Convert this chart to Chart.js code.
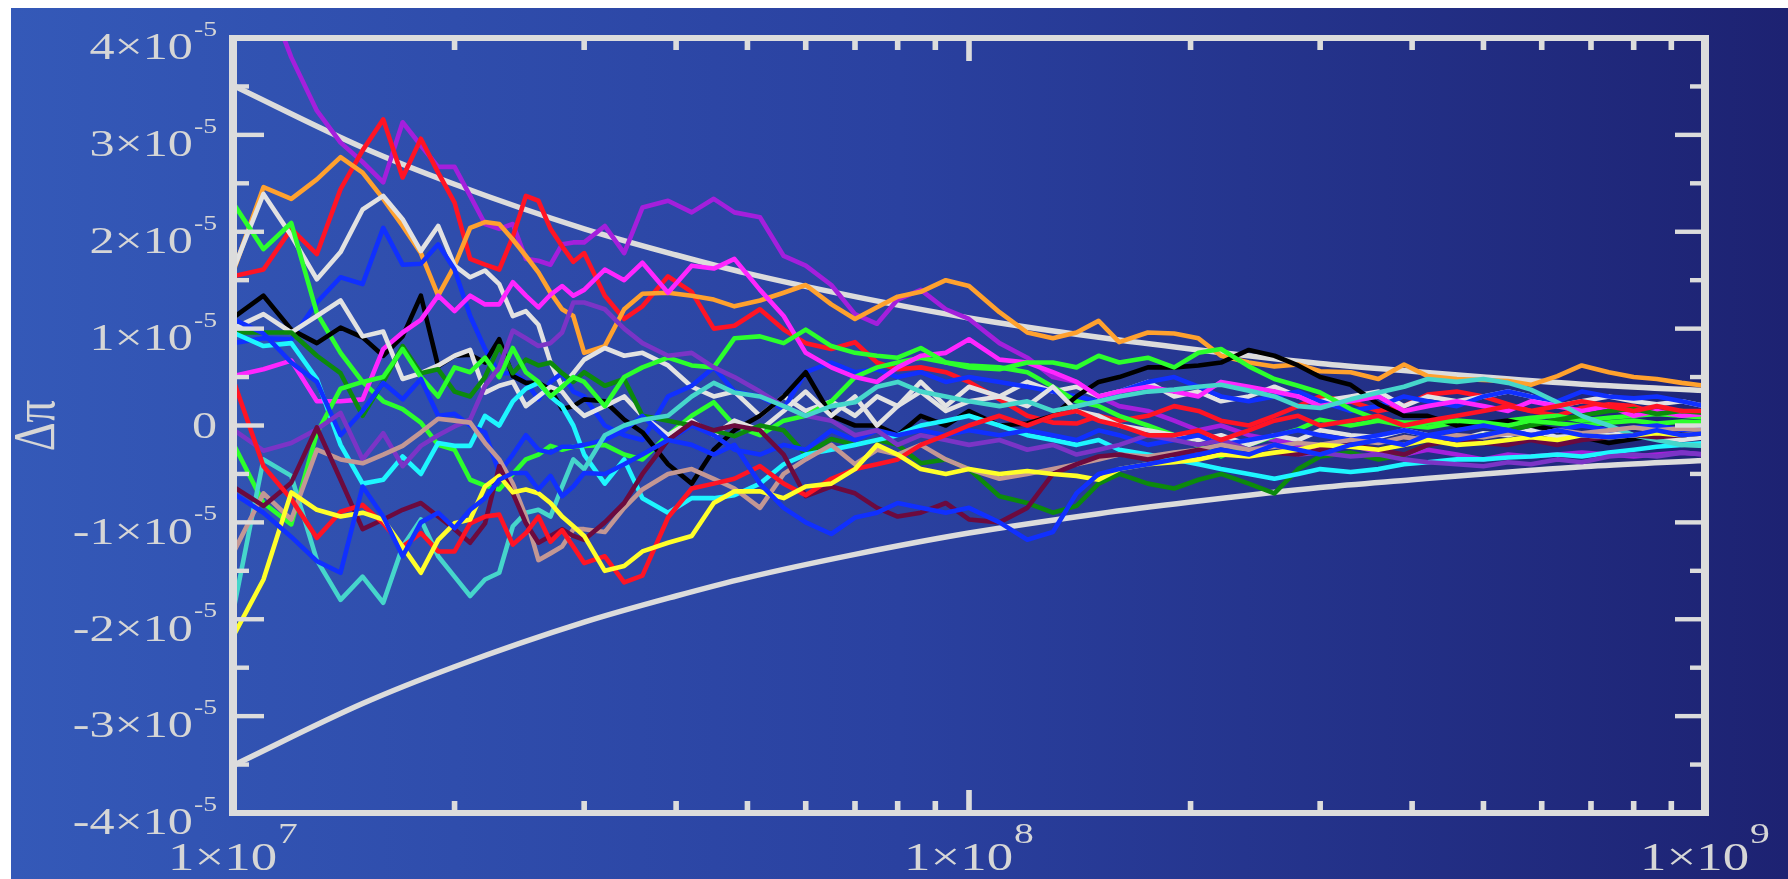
<!DOCTYPE html>
<html>
<head>
<meta charset="utf-8">
<script src="https://cdn.jsdelivr.net/npm/chart.js@4.4.1/dist/chart.umd.min.js"></script>
<style>
html,body{margin:0;padding:0;background:#fff;}
canvas{display:block;}
</style>
</head>
<body>
<canvas id="c" width="1788" height="879"></canvas>
<script>
// Number of samples, in units of 1e7
const samples = [1.0,1.1,1.2,1.3,1.4,1.5,1.6,1.7,1.8,1.9,2.0,2.1,2.2,2.3,2.4,2.5,2.6,2.7,2.8,2.9,3.0,
  3.2,3.4,3.6,3.9,4.2,4.5,4.8,5.2,5.6,6.0,6.5,7.0,7.5,8.0,8.6,9.3,10,
  11,12,13,14,15,16,17.5,19,20.5,22,24,26,28,30,33,36,39,42,46,50,54,58,63,68,74,80,86,93,100];

// Deviation of each run's estimate from pi, in units of 1e-5
const runViolet = [5.2,4.55,3.8,3.25,2.92,2.72,2.51,3.13,2.89,2.67,2.67,2.37,2.08,2.03,2.08,1.72,1.70,1.66,1.87,1.89,1.89,
  2.06,1.78,2.25,2.32,2.2,2.34,2.2,2.15,1.75,1.65,1.45,1.15,1.05,1.3,1.4,1.2,1.1,
  0.85,0.7,0.5,0.45,0.3,0.2,0.15,0.05,-0.05,0.0,-0.1,-0.15,-0.2,-0.25,-0.2,-0.28,-0.3,-0.25,-0.3,-0.35,-0.3,-0.32,-0.3,-0.28,-0.3,-0.32,-0.3,-0.28,-0.3];
const runRedA = [1.54,1.61,2.03,1.77,2.44,2.84,3.16,2.56,2.96,2.61,2.30,1.72,1.66,1.61,1.95,2.37,2.32,2.03,1.85,1.69,1.78,
  1.34,1.1,1.23,1.54,1.38,1.0,1.03,1.2,0.99,0.85,0.79,0.86,0.65,0.58,0.6,0.55,0.45,
  0.27,0.1,0.03,0.02,0.1,0.05,0.1,0.2,0.15,0.05,0.0,0.1,0.2,0.3,0.25,0.15,0.2,0.32,0.35,0.3,0.22,0.15,0.1,0.18,0.22,0.2,0.12,0.15,0.1];
const runRedB = [0.48,-0.42,-0.76,-1.16,-0.89,-0.82,-1.01,-1.25,-1.11,-1.30,-1.30,-1.01,-0.94,-0.92,-1.23,-1.11,-0.94,-1.20,-1.08,-1.25,-1.42,
  -1.35,-1.62,-1.55,-0.95,-0.65,-0.6,-0.55,-0.42,-0.6,-0.72,-0.55,-0.45,-0.4,-0.35,-0.2,-0.1,0.0,
  0.1,0.0,0.1,0.15,0.05,0.0,-0.1,-0.1,-0.05,-0.15,-0.05,0.05,0.1,0.0,0.05,0.1,0.0,0.05,0.1,0.15,0.2,0.15,0.2,0.25,0.2,0.15,0.2,0.15,0.15];
const runOrange = [1.58,2.46,2.34,2.54,2.77,2.61,2.34,2.06,1.78,1.34,1.65,2.04,2.10,2.08,1.92,1.75,1.58,1.37,1.20,1.13,0.75,
  0.82,1.2,1.36,1.37,1.34,1.3,1.23,1.29,1.37,1.45,1.25,1.1,1.22,1.33,1.38,1.5,1.44,
  1.17,0.96,0.9,0.96,1.08,0.86,0.96,0.95,0.9,0.72,0.65,0.61,0.63,0.56,0.55,0.48,0.63,0.51,0.48,0.47,0.46,0.42,0.51,0.62,0.55,0.5,0.48,0.44,0.41];
const runWhiteA = [1.6,2.39,1.96,1.51,1.79,2.23,2.37,2.13,1.80,2.06,1.65,1.53,1.60,1.46,1.13,1.18,1.04,0.65,0.40,0.54,0.68,
  0.8,0.72,0.75,0.62,0.4,0.3,0.35,0.1,0.3,0.15,0.25,0.1,0.3,0.2,0.35,0.15,0.25,
  0.3,0.45,0.35,0.4,0.3,0.35,0.45,0.3,0.35,0.25,0.3,0.4,0.3,0.25,0.3,0.35,0.2,0.3,0.25,0.3,0.35,0.3,0.2,0.25,0.3,0.25,0.22,0.25,0.2];
const runWhiteB = [1.0,1.15,0.96,1.13,1.29,0.92,0.97,0.48,0.54,0.62,0.72,0.78,0.34,0.41,0.45,0.2,0.3,0.4,0.35,0.2,0.1,
  0.2,0.3,0.1,-0.1,0.05,-0.1,0.05,-0.05,0.15,0.35,0.1,0.3,0.0,0.2,0.45,0.2,0.4,
  0.3,0.2,0.4,0.15,0.1,0.0,-0.05,-0.1,-0.15,-0.1,-0.2,-0.1,-0.15,-0.05,-0.1,-0.12,-0.05,-0.1,-0.15,-0.08,-0.1,-0.05,-0.12,-0.1,-0.08,-0.1,-0.12,-0.15,-0.12];
const runBlack = [1.11,1.34,0.99,0.85,1.01,0.91,0.72,0.92,1.34,0.61,0.72,0.73,0.65,0.89,0.51,0.44,0.44,0.37,0.17,0.20,0.27,
  0.25,0.06,-0.07,-0.4,-0.6,-0.25,-0.05,0.1,0.3,0.55,0.1,0.0,0.0,-0.1,0.1,0.0,0.15,
  0.0,0.02,0.1,0.3,0.45,0.5,0.6,0.6,0.62,0.65,0.78,0.72,0.62,0.5,0.42,0.22,0.1,0.1,0.0,0.02,0.05,0.0,-0.05,-0.12,-0.18,-0.14,-0.1,-0.08,-0.1];
const runBlueA = [0.85,0.9,0.89,1.27,1.53,1.46,2.04,1.66,1.67,1.87,1.61,1.13,0.79,0.54,0.54,0.45,0.27,0.45,0.54,0.35,0.3,
  0.0,-0.1,-0.15,0.3,0.41,0.6,0.35,0.3,0.17,0.55,0.65,0.55,0.58,0.5,0.55,0.45,0.5,
  0.45,0.4,0.35,0.3,0.25,0.35,0.45,0.5,0.4,0.3,0.25,0.3,0.35,0.25,0.15,0.2,0.3,0.25,0.2,0.3,0.35,0.3,0.25,0.35,0.3,0.28,0.3,0.25,0.2];
const runBlueB = [-0.70,-0.9,-1.15,-1.40,-1.52,-0.63,-0.94,-1.35,-1.0,-0.9,-1.06,-0.87,-0.75,-0.56,-0.49,-0.49,-0.66,-0.52,-0.73,-0.63,-0.49,
  -0.5,-0.4,-0.3,-0.15,-0.2,-0.3,-0.2,-0.6,-0.85,-1.0,-1.12,-0.95,-0.9,-0.8,-0.85,-0.9,-0.85,
  -1.0,-1.18,-1.1,-0.7,-0.5,-0.45,-0.4,-0.35,-0.3,-0.25,-0.3,-0.2,-0.25,-0.3,-0.2,-0.15,-0.2,-0.1,-0.15,-0.1,-0.05,-0.1,-0.05,-0.1,-0.12,-0.1,-0.05,-0.1,-0.08];
const runBlueC = [1.1,0.95,0.65,0.45,-0.1,0.15,0.44,0.27,0.48,0.1,0.12,0.0,-0.07,-0.49,-0.3,-0.1,-0.25,-0.28,-0.22,-0.22,-0.2,
  -0.15,-0.05,0.1,-0.15,0.0,-0.1,-0.25,-0.3,-0.2,-0.25,-0.05,-0.15,-0.05,-0.1,-0.05,-0.1,-0.05,
  -0.1,-0.05,-0.1,-0.15,-0.05,-0.1,-0.2,-0.15,-0.1,-0.2,-0.15,-0.1,-0.05,-0.1,-0.15,-0.1,-0.05,-0.1,-0.05,0.0,-0.05,-0.1,-0.05,0.0,-0.05,-0.02,0.0,-0.05,-0.02];
const runCyan = [0.96,0.82,0.85,0.48,-0.2,-0.6,-0.56,-0.32,-0.5,-0.18,-0.21,-0.21,0.1,0.0,0.25,0.38,0.44,0.3,0.2,0.0,-0.3,
  -0.6,-0.35,-0.75,-0.9,-0.75,-0.75,-0.72,-0.6,-0.4,-0.3,-0.25,-0.2,-0.15,-0.1,0.0,0.05,0.1,
  0.0,-0.1,-0.15,-0.2,-0.15,-0.25,-0.3,-0.35,-0.4,-0.45,-0.5,-0.55,-0.5,-0.45,-0.48,-0.45,-0.4,-0.38,-0.35,-0.35,-0.33,-0.32,-0.3,-0.32,-0.28,-0.25,-0.22,-0.2,-0.18];
const runMagenta = [0.51,0.58,0.67,0.25,0.25,0.27,0.79,0.96,1.09,1.34,1.18,1.34,1.25,1.25,1.48,1.34,1.22,1.35,1.44,1.34,1.4,
  1.61,1.5,1.68,1.37,1.65,1.62,1.72,1.4,1.13,0.75,0.6,0.5,0.45,0.6,0.72,0.75,0.89,
  0.68,0.65,0.55,0.45,0.3,0.35,0.4,0.35,0.3,0.45,0.4,0.35,0.3,0.2,0.25,0.3,0.15,0.2,0.25,0.2,0.15,0.25,0.2,0.15,0.2,0.1,0.15,0.1,0.12];
const runDarkGreen = [0.96,0.96,0.96,0.72,0.54,0.1,0.45,0.82,0.54,0.58,0.35,0.3,0.5,0.82,0.54,0.68,0.62,0.65,0.54,0.45,0.55,
  0.41,0.48,0.1,0.05,0.0,-0.05,-0.11,0.0,-0.05,-0.3,-0.14,-0.2,-0.15,-0.2,-0.39,-0.35,-0.45,
  -0.73,-0.8,-0.9,-0.83,-0.6,-0.5,-0.6,-0.65,-0.56,-0.5,-0.6,-0.7,-0.45,-0.32,-0.28,-0.35,-0.3,-0.2,-0.14,-0.1,-0.05,0.0,0.06,0.1,0.15,0.17,0.12,0.15,0.13];
const runLimeA = [2.3,1.82,2.09,1.16,0.75,0.45,0.25,0.17,0.03,-0.2,-0.25,-0.56,-0.62,-0.66,-0.5,-0.35,-0.3,-0.21,-0.25,-0.22,-0.21,
  -0.2,-0.3,-0.35,-0.1,0.1,0.24,0.0,-0.1,0.05,0.1,0.25,0.5,0.6,0.65,0.7,0.65,0.62,
  0.6,0.55,0.4,0.25,0.2,0.1,0.0,-0.1,-0.21,-0.32,-0.2,-0.11,-0.04,0.06,0.0,0.05,0.0,-0.02,0.03,0.0,0.05,0.08,0.1,0.05,0.08,0.1,0.12,0.1,0.08];
const runLimeB = [-0.18,-0.8,-1.02,-0.08,0.38,0.45,0.5,0.79,0.5,0.3,0.6,0.55,0.7,0.5,0.8,0.55,0.45,0.3,0.4,0.5,0.45,
  0.2,0.5,0.6,0.7,0.62,0.6,0.9,0.92,0.85,0.99,0.82,0.75,0.72,0.7,0.8,0.65,0.6,
  0.58,0.65,0.65,0.6,0.72,0.65,0.7,0.6,0.75,0.79,0.61,0.48,0.41,0.34,0.17,0.06,0.03,0.03,0.05,0.03,0.0,0.05,0.02,0.0,0.03,0.05,0.02,0.04,0.03];
const runTurquoise = [-1.93,-0.35,-0.52,-1.39,-1.8,-1.56,-1.83,-1.25,-0.97,-1.35,-1.56,-1.76,-1.59,-1.52,-1.04,-0.90,-0.87,-0.94,-0.63,-0.35,-0.45,
  -0.1,0.0,0.06,0.1,0.3,0.44,0.34,0.3,0.2,0.1,0.2,0.24,0.4,0.45,0.35,0.3,0.25,
  0.2,0.25,0.15,0.2,0.25,0.3,0.35,0.37,0.4,0.42,0.36,0.3,0.2,0.18,0.27,0.34,0.4,0.48,0.45,0.48,0.44,0.37,0.24,0.1,0.0,-0.1,-0.15,-0.2,-0.21];
const runYellow = [-2.18,-1.59,-0.69,-0.87,-0.94,-0.9,-0.97,-1.25,-1.52,-1.18,-1.01,-0.97,-0.63,-0.52,-0.69,-0.66,-0.7,-0.8,-0.94,-1.04,-1.14,
  -1.5,-1.45,-1.3,-1.21,-1.14,-0.8,-0.68,-0.68,-0.75,-0.63,-0.6,-0.45,-0.2,-0.3,-0.45,-0.5,-0.45,
  -0.5,-0.47,-0.5,-0.52,-0.56,-0.45,-0.4,-0.38,-0.35,-0.3,-0.32,-0.28,-0.25,-0.2,-0.22,-0.25,-0.2,-0.15,-0.2,-0.18,-0.15,-0.12,-0.15,-0.1,-0.12,-0.1,-0.08,-0.1,-0.08];
const runMaroon = [-0.63,-0.83,-0.59,-0.02,-0.56,-1.07,-0.97,-0.87,-0.8,-0.94,-1.07,-1.21,-1.01,-0.42,-0.7,-1.01,-1.21,-1.14,-1.07,-1.14,-1.18,
  -1.0,-0.8,-0.5,-0.15,0.03,-0.05,0.0,-0.05,-0.3,-0.73,-0.63,-0.7,-0.85,-0.94,-0.9,-0.8,-0.97,
  -1.0,-0.85,-0.5,-0.4,-0.32,-0.3,-0.35,-0.3,-0.25,-0.3,-0.32,-0.28,-0.3,-0.25,-0.2,-0.25,-0.3,-0.2,-0.15,-0.18,-0.2,-0.15,-0.2,-0.15,-0.12,-0.1,-0.12,-0.1,-0.08];
const runRosy = [-1.32,-0.70,-0.97,-0.25,-0.35,-0.39,-0.3,-0.21,-0.07,0.07,0.05,0.03,-0.18,-0.35,-0.6,-0.94,-1.39,-1.32,-1.25,-1.07,-1.07,
  -1.1,-0.85,-0.66,-0.5,-0.45,-0.55,-0.65,-0.85,-0.5,-0.35,-0.2,-0.4,-0.25,-0.3,-0.2,-0.35,-0.45,
  -0.55,-0.5,-0.45,-0.4,-0.35,-0.3,-0.32,-0.28,-0.25,-0.2,-0.25,-0.22,-0.18,-0.2,-0.15,-0.18,-0.12,-0.15,-0.1,-0.12,-0.08,-0.1,-0.05,-0.08,-0.05,-0.02,-0.05,-0.03,-0.05];
const runPurple = [-0.04,-0.26,-0.18,-0.04,0.13,-0.35,-0.08,-0.42,-0.21,-0.1,-0.01,0.06,0.41,0.6,0.98,0.9,0.82,0.85,0.96,1.27,1.27,
  1.2,1.0,0.85,0.72,0.75,0.6,0.5,0.35,0.2,0.1,0.05,-0.1,-0.05,-0.2,-0.1,-0.15,-0.2,
  -0.15,-0.25,-0.2,-0.3,-0.25,-0.2,-0.1,-0.15,-0.2,-0.15,-0.25,-0.2,-0.3,-0.28,-0.32,-0.3,-0.35,-0.38,-0.4,-0.42,-0.38,-0.4,-0.35,-0.38,-0.32,-0.3,-0.32,-0.28,-0.3];

// Expected spread of the estimate (units of 1e-5) at selected sample counts (units of 1e7)
const boundSamples = [1,1.5,2,3,4,5,7,10,15,20,30,40,50,70,100];
const boundUpper = [3.51,2.87,2.49,2.03,1.76,1.57,1.33,1.11,0.91,0.79,0.64,0.56,0.50,0.42,0.36];
const boundLower = [-3.51,-2.87,-2.49,-2.03,-1.76,-1.57,-1.33,-1.11,-0.91,-0.79,-0.64,-0.56,-0.50,-0.42,-0.36];

// Axis ticks
const yTickValues = [-4,-3,-2,-1,0,1,2,3,4];
const yMinorValues = [-3.5,-2.5,-1.5,-0.5,0.5,1.5,2.5,3.5];
const yExponent = '-5';
const xMajorValues = [1e7,1e8,1e9];
const xMajorExponents = ['7','8','9'];
const xMinorValues = [2e7,3e7,4e7,5e7,6e7,7e7,8e7,9e7,2e8,3e8,4e8,5e8,6e8,7e8,8e8,9e8];

const runs = [
  {data: runViolet, color: '#a41fdc'},
  {data: runRedA, color: '#ff1424'},
  {data: runOrange, color: '#ffa12e'},
  {data: runWhiteA, color: '#e2e2e2'},
  {data: runBlueA, color: '#1030ff'},
  {data: runLimeA, color: '#2cff2c'},
  {data: runBlack, color: '#000000'},
  {data: runMagenta, color: '#ff26ff'},
  {data: runWhiteB, color: '#e2e2e2'},
  {data: runDarkGreen, color: '#0c8a0c'},
  {data: runCyan, color: '#1ef6ff'},
  {data: runLimeB, color: '#2cff2c'},
  {data: runBlueC, color: '#1030ff'},
  {data: runPurple, color: '#7b34c6'},
  {data: runTurquoise, color: '#46d6cb'},
  {data: runRosy, color: '#c39794'},
  {data: runMaroon, color: '#6c0a3e'},
  {data: runRedB, color: '#ff1424'},
  {data: runYellow, color: '#ffff2a'},
  {data: runBlueB, color: '#1030ff'}
];

const lineColor = '#dcdcdc';
const textColor = '#d6d6d6';
const stretch = 1.32;

const datasets = runs.map((r, i) => ({
  data: samples.map((n, k) => ({x: n * 1e7, y: r.data[k] * 1e-5})),
  borderColor: r.color,
  borderWidth: 4.6,
  pointRadius: 0,
  tension: 0,
  borderJoinStyle: 'round',
  clip: 0,
  order: runs.length - i
}));
datasets.push({
  data: boundSamples.map((n, k) => ({x: n * 1e7, y: boundUpper[k] * 1e-5})),
  borderColor: lineColor, borderWidth: 5.5, pointRadius: 0,
  cubicInterpolationMode: 'monotone', clip: 0, order: 100
});
datasets.push({
  data: boundSamples.map((n, k) => ({x: n * 1e7, y: boundLower[k] * 1e-5})),
  borderColor: lineColor, borderWidth: 5.5, pointRadius: 0,
  cubicInterpolationMode: 'monotone', clip: 0, order: 100
});

function wideText(ctx, txt, x, y, font, align) {
  ctx.font = font;
  const w = ctx.measureText(txt).width * stretch;
  const left = align === 'right' ? x - w : (align === 'center' ? x - w / 2 : x);
  ctx.save();
  ctx.translate(left, y);
  ctx.scale(stretch, 1);
  ctx.textAlign = 'left';
  ctx.textBaseline = 'alphabetic';
  ctx.fillText(txt, 0, 0);
  ctx.restore();
  return w;
}
function textWidth(ctx, txt, font) {
  ctx.font = font;
  return ctx.measureText(txt).width * stretch;
}

const backdrop = {
  id: 'backdrop',
  beforeDraw(chart) {
    const {ctx, width, height} = chart;
    ctx.save();
    ctx.fillStyle = '#ffffff';
    ctx.fillRect(0, 0, width, height);
    const g = ctx.createLinearGradient(11, 0, width, 0);
    g.addColorStop(0, '#3459b8');
    g.addColorStop(0.5, '#2a41a0');
    g.addColorStop(1, '#1d2272');
    ctx.fillStyle = g;
    ctx.fillRect(11, 8, width - 11, height - 8);
    ctx.restore();
  }
};

const frame = {
  id: 'frame',
  afterDraw(chart) {
    const {ctx, chartArea: a} = chart;
    const xs = chart.scales.x, ys = chart.scales.y;
    ctx.save();
    ctx.fillStyle = lineColor;
    // box
    ctx.fillRect(a.left - 4, a.top - 3, a.right - a.left + 8, 6);
    ctx.fillRect(a.left - 4, a.bottom - 3, a.right - a.left + 8, 6);
    ctx.fillRect(a.left - 4, a.top - 3, 8, a.bottom - a.top + 6);
    ctx.fillRect(a.right - 4, a.top - 3, 8, a.bottom - a.top + 6);
    // y ticks, both sides
    yTickValues.forEach(v => {
      const y = ys.getPixelForValue(v * 1e-5);
      ctx.fillRect(a.left + 4, y - 2.2, 27, 4.4);
      ctx.fillRect(a.right - 30, y - 2.2, 26, 4.4);
    });
    yMinorValues.forEach(v => {
      const y = ys.getPixelForValue(v * 1e-5);
      ctx.fillRect(a.left + 4, y - 2.2, 12, 4.4);
      ctx.fillRect(a.right - 15, y - 2.2, 11, 4.4);
    });
    // x ticks, top and bottom
    xMinorValues.forEach(v => {
      const x = xs.getPixelForValue(v);
      ctx.fillRect(x - 2.8, a.top + 3, 5.6, 9);
      ctx.fillRect(x - 2.8, a.bottom - 12, 5.6, 9);
    });
    xMajorValues.forEach(v => {
      const x = xs.getPixelForValue(v);
      if (x > a.left + 5 && x < a.right - 5) {
        ctx.fillRect(x - 2.8, a.top + 3, 5.6, 20);
        ctx.fillRect(x - 2.8, a.bottom - 23, 5.6, 20);
      }
    });

    // y tick labels
    ctx.fillStyle = textColor;
    const mainY = '38px "Liberation Serif"', supY = '21px "Liberation Serif"';
    const labelRight = 217;
    yTickValues.forEach(v => {
      const y = ys.getPixelForValue(v * 1e-5);
      if (v === 0) {
        wideText(ctx, '0', labelRight, y + 12.8, mainY, 'right');
      } else {
        const sw = textWidth(ctx, yExponent, supY);
        const sx = labelRight - sw;
        wideText(ctx, yExponent, sx, y - 2, supY, 'left');
        wideText(ctx, (v < 0 ? '-' : '') + Math.abs(v) + '\u00d710', sx - 1, y + 21.3, mainY, 'right');
      }
    });
    // x tick labels
    const mainX = '40px "Liberation Serif"', supX = '30px "Liberation Serif"';
    xMajorValues.forEach((v, i) => {
      const x = xs.getPixelForValue(v);
      const mw = textWidth(ctx, '1\u00d710', mainX);
      const sw = textWidth(ctx, xMajorExponents[i], supX);
      const left = x - (mw + sw + 1) / 2;
      wideText(ctx, '1\u00d710', left, 870, mainX, 'left');
      wideText(ctx, xMajorExponents[i], left + mw + 1, 843, supX, 'left');
    });
    // y axis title
    ctx.save();
    ctx.translate(54, ys.getPixelForValue(0));
    ctx.scale(stretch, 1);
    ctx.rotate(-Math.PI / 2);
    ctx.font = '45px "Liberation Serif"';
    ctx.textAlign = 'center';
    ctx.textBaseline = 'alphabetic';
    ctx.fillText('\u0394\u03c0', 0, 0);
    ctx.restore();
    ctx.restore();
  }
};

new Chart(document.getElementById('c'), {
  type: 'line',
  data: {datasets},
  options: {
    responsive: false,
    animation: false,
    devicePixelRatio: 1,
    layout: {padding: {left: 233, right: 83, top: 38, bottom: 66}},
    plugins: {legend: {display: false}, tooltip: {enabled: false}},
    scales: {
      x: {type: 'logarithmic', min: 1e7, max: 1e9, display: false},
      y: {type: 'linear', min: -4e-5, max: 4e-5, display: false}
    }
  },
  plugins: [backdrop, frame]
});
</script>
</body>
</html>
